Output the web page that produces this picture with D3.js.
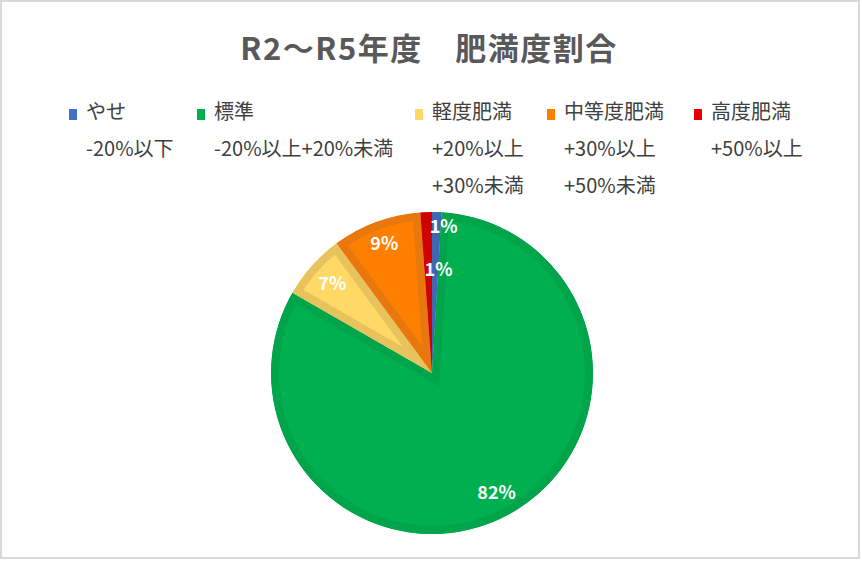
<!DOCTYPE html>
<html>
<head>
<meta charset="utf-8">
<script src="https://cdn.jsdelivr.net/npm/d3@7"></script>
<style>
  body { margin: 0; background: #fff; }
  text { font-family: "Noto Sans CJK JP", "Noto Sans", sans-serif; }
</style>
</head>
<body>
<script>
// data
var categories = ["やせ", "標準", "軽度肥満", "中等度肥満", "高度肥満"];
var subLabels = [["-20%以下"], ["-20%以上+20%未満"], ["+20%以上", "+30%未満"], ["+30%以上", "+50%未満"], ["+50%以上"]];
var shares = [0.95, 82.35, 6.6, 8.95, 1.15];
var fills = ["#4472C4", "#00B050", "#FFD966", "#FF8000", "#E60000"];
var edges = ["#3F67B3", "#00A44A", "#E8C25C", "#E8780E", "#D00000"];

var w = 862, h = 561;
var cx = 432, cy = 373, R = 161;

var svg = d3.select("body").append("svg")
	.attr("width", w)
	.attr("height", h);

// chart frame
svg.append("rect")
	.attr("x", 1).attr("y", 1)
	.attr("width", w - 4).attr("height", h - 4)
	.attr("fill", "#fff")
	.attr("stroke", "#D9D9D9")
	.attr("stroke-width", 2);

svg.append("text")
	.attr("x", 429).attr("y", 60)
	.attr("text-anchor", "middle")
	.attr("font-size", 31)
	.attr("letter-spacing", 1.5)
	.attr("font-weight", "bold")
	.attr("fill", "#595959")
	.text("R2～R5年度　肥満度割合");

// legend
var legX = [69, 197, 415, 547, 694];
var leg = svg.selectAll("g.leg")
	.data(categories)
	.enter().append("g")
	.attr("class", "leg")
	.attr("transform", (d, i) => "translate(" + legX[i] + ",0)");

leg.append("rect")
	.attr("x", 0).attr("y", 109)
	.attr("width", 8).attr("height", 11)
	.attr("fill", (d, i) => fills[i]);

leg.append("text")
	.attr("x", 17).attr("y", 119)
	.attr("font-size", 20)
	.attr("fill", "#404040")
	.text(d => d);

leg.each(function(d, i) {
	d3.select(this).selectAll("text.sub")
		.data(subLabels[i])
		.enter().append("text")
		.attr("class", "sub")
		.attr("x", 17)
		.attr("y", (s, j) => 156 + j * 37)
		.attr("font-size", 20)
		.attr("fill", "#404040")
		.text(s => s);
});

// pie
var pie = d3.pie().sort(null).value(d => d);
var arcs = pie(shares);
var arc = d3.arc().innerRadius(0).outerRadius(R);

var g = svg.append("g").attr("transform", "translate(" + cx + "," + cy + ")");

var defs = svg.append("defs");
arcs.forEach(function(a, i) {
	defs.append("clipPath").attr("id", "clip" + i)
		.append("path").attr("d", arc(a));
});

g.selectAll("path.slice")
	.data(arcs)
	.enter().append("path")
	.attr("class", "slice")
	.attr("d", arc)
	.attr("fill", (d, i) => fills[i])
	.attr("stroke", (d, i) => edges[i])
	.attr("stroke-width", 16)
	.attr("stroke-linejoin", "miter")
	.attr("clip-path", (d, i) => "url(#clip" + i + ")");

// data labels, small slices nudged like the original
var labelR = [0.91, 0.845, 0.83, 0.855, 0.64];
var labelTurn = [0.05, 0, 0, 0, 0.1];
g.selectAll("text.lbl")
	.data(arcs)
	.enter().append("text")
	.attr("class", "lbl")
	.attr("transform", function(d, i) {
		var a = (d.startAngle + d.endAngle) / 2 + labelTurn[i];
		var r = R * labelR[i];
		return "translate(" + (Math.sin(a) * r) + "," + (-Math.cos(a) * r) + ")";
	})
	.attr("text-anchor", "middle")
	.attr("dy", "0.35em")
	.attr("font-size", 18)
	.attr("font-weight", "bold")
	.attr("fill", "#fff")
	.text(d => Math.round(d.data) + "%");
</script>
</body>
</html>
